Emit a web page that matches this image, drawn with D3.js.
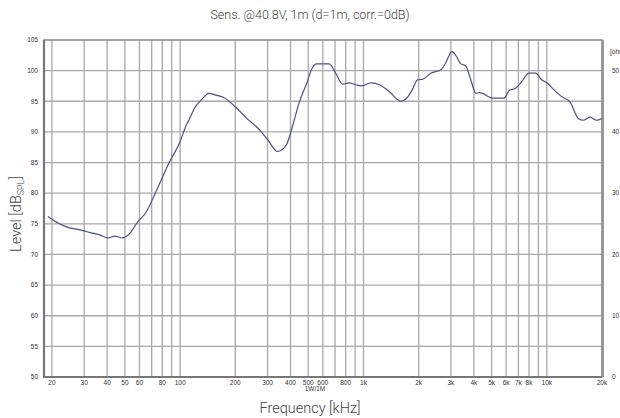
<!DOCTYPE html>
<html>
<head>
<meta charset="utf-8">
<script src="https://cdn.jsdelivr.net/npm/d3@7"></script>
<style>
  body { margin: 0; background: #fff; }
  svg { display: block; }
</style>
</head>
<body>
<div id="chart"></div>
<script>
// Frequency response (Hz / dB SPL)
const freqs = [19, 22, 24, 29.5, 32, 36.4, 40.3, 44, 48.7, 53, 59, 65, 74, 87.5, 100, 108, 112, 120, 133, 143, 157, 171, 200, 231, 272, 301, 340, 380, 410, 445, 490, 525, 555, 650, 705, 770, 840, 910, 970, 1100, 1225, 1380, 1600, 1720, 1840, 1970, 2100, 2340, 2660, 2800, 3040, 3200, 3400, 3610, 3850, 4100, 4300, 5100, 5850, 6250, 6720, 7300, 7970, 8700, 9300, 10100, 11000, 12000, 13380, 14850, 15800, 17200, 18700, 20000];
const levels = [76.2, 75.0, 74.5, 73.9, 73.6, 73.2, 72.7, 73.0, 72.7, 73.4, 75.4, 76.8, 80.3, 85.1, 88.4, 91.1, 92.0, 93.9, 95.5, 96.3, 96.0, 95.7, 94.1, 92.2, 90.3, 88.7, 86.8, 87.9, 90.9, 94.7, 97.9, 100.4, 101.1, 101.1, 99.6, 97.8, 98.0, 97.7, 97.5, 98.0, 97.7, 96.6, 95.0, 95.5, 96.8, 98.5, 98.6, 99.6, 100.2, 101.2, 103.1, 102.4, 101.1, 100.8, 98.5, 96.3, 96.4, 95.5, 95.5, 96.8, 97.1, 98.2, 99.6, 99.6, 98.6, 97.9, 96.8, 95.8, 94.9, 92.2, 91.9, 92.4, 91.9, 92.2];

const gridFreqs = [20, 30, 40, 50, 60, 70, 80, 90, 100, 200, 300, 400, 500, 600, 700, 800, 900, 1000, 2000, 3000, 4000, 5000, 6000, 7000, 8000, 9000, 10000, 20000];
const xTickFreqs = [20, 30, 40, 50, 60, 80, 100, 200, 300, 400, 500, 600, 800, 1000, 2000, 3000, 4000, 5000, 6000, 7000, 8000, 10000, 20000];
const xTickLabels = ["20", "30", "40", "50", "60", "80", "100", "200", "300", "400", "500", "600", "800", "1k", "2k", "3k", "4k", "5k", "6k", "7k", "8k", "10k", "20k"];
const dbTicks = [50, 55, 60, 65, 70, 75, 80, 85, 90, 95, 100, 105];
const ohmTicks = [0, 10, 20, 30, 40, 50];

const width = 620, height = 418;
const m = { left: 44, right: 602, top: 40, bottom: 377 };

const x = d3.scaleLog().domain([18.1, 20000]).range([m.left, m.right]);
const y = d3.scaleLinear().domain([50, 105]).range([m.bottom, m.top]);
const yOhm = d3.scaleLinear().domain([0, 55]).range([m.bottom, m.top]);

const svg = d3.select("#chart").append("svg")
    .attr("width", width)
    .attr("height", height);

// grid
svg.append("g")
    .attr("stroke", "#a9a9a9")
    .attr("stroke-width", 1.3)
    .selectAll("line")
    .data(gridFreqs)
    .join("line")
    .attr("x1", d => x(d)).attr("x2", d => x(d))
    .attr("y1", m.top).attr("y2", m.bottom);

svg.append("g")
    .attr("stroke", "#a9a9a9")
    .attr("stroke-width", 1.3)
    .selectAll("line")
    .data(dbTicks.slice(1, -1))
    .join("line")
    .attr("x1", m.left).attr("x2", m.right)
    .attr("y1", d => y(d)).attr("y2", d => y(d));

// frame
svg.append("rect")
    .attr("x", m.left).attr("y", m.top)
    .attr("width", m.right - m.left).attr("height", m.bottom - m.top)
    .attr("fill", "none")
    .attr("stroke", "#8a8a8a")
    .attr("stroke-width", 1.5);
svg.append("path")
    .attr("d", `M${m.left},${m.top}V${m.bottom}H${m.right}`)
    .attr("fill", "none")
    .attr("stroke", "#777")
    .attr("stroke-width", 2.2);
svg.append("line")
    .attr("x1", m.right + 1.5).attr("x2", m.right + 1.5)
    .attr("y1", m.top).attr("y2", m.bottom)
    .attr("stroke", "#999").attr("stroke-width", 1);

// response curve
const line = d3.line()
    .x((d, i) => x(freqs[i]))
    .y(d => y(d))
    .curve(d3.curveMonotoneX);

svg.append("path")
    .datum(levels)
    .attr("fill", "none")
    .attr("stroke", "#4b5088")
    .attr("stroke-width", 1.2)
    .attr("d", line);

// tick labels
const tickFont = "Liberation Sans, Arial, sans-serif";
svg.append("g")
    .selectAll("text")
    .data(dbTicks)
    .join("text")
    .attr("x", 38)
    .attr("y", d => y(d))
    .attr("dy", "0.35em")
    .attr("text-anchor", "end")
    .attr("font-family", tickFont)
    .attr("font-size", 6.5)
    .attr("fill", "#333")
    .text(d => d);

svg.append("g")
    .selectAll("text")
    .data(xTickFreqs)
    .join("text")
    .attr("x", d => x(d))
    .attr("y", 385)
    .attr("text-anchor", "middle")
    .attr("font-family", tickFont)
    .attr("font-size", 6.5)
    .attr("fill", "#333")
    .text((d, i) => xTickLabels[i]);

svg.append("text")
    .attr("x", 315).attr("y", 391)
    .attr("text-anchor", "middle")
    .attr("font-family", tickFont)
    .attr("font-size", 6.5)
    .attr("fill", "#333")
    .text("1W/1M");

svg.append("g")
    .selectAll("text")
    .data(ohmTicks)
    .join("text")
    .attr("x", 612)
    .attr("y", d => yOhm(d))
    .attr("dy", "0.35em")
    .attr("font-family", tickFont)
    .attr("font-size", 6.5)
    .attr("fill", "#333")
    .text(d => d);

svg.append("text")
    .attr("x", 610).attr("y", 54)
    .attr("font-family", tickFont)
    .attr("font-size", 6.5)
    .attr("fill", "#333")
    .text("[ohm]");

// titles
const labelFont = "Roboto, sans-serif";
svg.append("text")
    .attr("x", 310).attr("y", 19)
    .attr("text-anchor", "middle")
    .attr("font-family", labelFont)
    .attr("font-weight", 300)
    .attr("font-size", 12.5)
    .attr("fill", "#444")
    .text("Sens. @40.8V, 1m (d=1m, corr.=0dB)");

svg.append("text")
    .attr("x", 310).attr("y", 413)
    .attr("text-anchor", "middle")
    .attr("font-family", labelFont)
    .attr("font-weight", 300)
    .attr("font-size", 14.5)
    .attr("fill", "#444")
    .text("Frequency [kHz]");

const yl = svg.append("text")
    .attr("transform", "translate(21,214) rotate(-90)")
    .attr("text-anchor", "middle")
    .attr("font-family", labelFont)
    .attr("font-weight", 300)
    .attr("font-size", 14.5)
    .attr("fill", "#444");
yl.append("tspan").text("Level [dB");
yl.append("tspan").attr("font-size", 9).attr("dy", 3).text("SPL");
yl.append("tspan").attr("dy", -3).text("]");
</script>
</body>
</html>
